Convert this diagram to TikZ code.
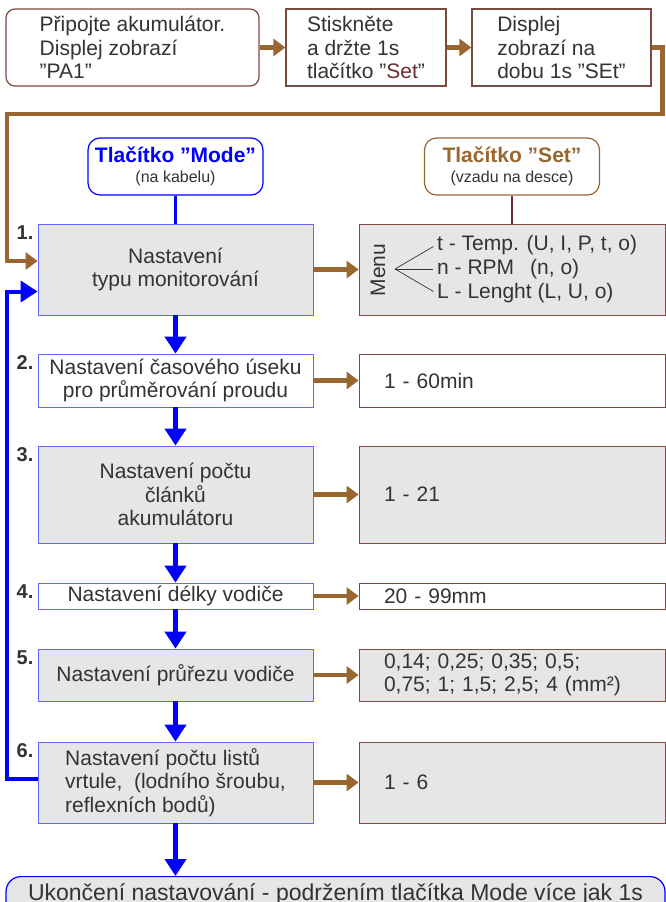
\documentclass[tikz,border=0pt]{standalone}
\usepackage{fontspec}
\setmainfont{Liberation Sans}[Ligatures=NoCommon]
\usetikzlibrary{arrows.meta}
\definecolor{hnd}{HTML}{9A6630}
\definecolor{hndt}{HTML}{7B4A40}
\definecolor{setc}{HTML}{6B2E2E}
\definecolor{modra}{HTML}{0000FF}
\definecolor{okraj}{HTML}{6666FF}
\definecolor{seda}{HTML}{E6E6E6}
\definecolor{txt}{HTML}{333333}
\newcommand{\uv}{\symbol{34}}
\begin{document}
\begin{tikzpicture}[x=1pt, y=-1pt, font=\fontsize{21}{23.5}\selectfont, text=txt,
	horni/.style={draw=hndt, line width=1.2pt, fill=white, align=left, minimum height=77pt, inner sep=0pt},
	krok/.style={draw=okraj, line width=0.8pt, fill=seda, minimum width=275pt, inner sep=0pt, align=center},
	hodn/.style={draw=hndt, line width=0.8pt, fill=seda, text width=256pt, inner xsep=25pt, inner ysep=0pt, align=left},
	cislo/.style={font=\fontsize{20}{20}\selectfont\bfseries, anchor=north east, inner sep=1pt},
	polozka/.style={anchor=west, inner sep=1pt},
	tlac/.style={rounded corners=12pt, fill=white, line width=1.2pt, minimum width=175pt, minimum height=57pt, align=center},
	sipH/.style={draw=hnd, line width=4.5pt, -{Triangle[length=12pt,width=17pt]}},
	sipM/.style={draw=modra, line width=5pt, -{Triangle[length=17pt,width=21pt]}}]
	\useasboundingbox (0,0) rectangle (666,902);
	% horni rada
	\node[horni, rounded corners=9pt, minimum width=253pt] (pripoj) at (132.5,47.5) {Připojte akumulátor.\\Displej zobrazí\\\uv PA1\uv};
	\node[horni, minimum width=160pt] (stisk) at (366,47.5) {Stiskněte\\a držte 1s\\tlačítko \uv\textcolor{setc}{Set}\uv};
	\node[horni, minimum width=179pt] (displ) at (561.5,47.5) {Displej\\zobrazí na\\dobu 1s \uv SEt\uv};
	\coordinate (zpet) at (7,114);
	\coordinate (smycka) at (7,500);
	% tlacitka
	\node[tlac, draw=modra] (mode) at (175.5,166.5) {\textcolor{modra}{\bfseries Tlačítko \uv Mode\uv}\\[-3pt]{\fontsize{16}{18}\selectfont (na kabelu)}};
	\node[tlac, draw=hnd] (set) at (512,166.5) {\textcolor{hnd}{\bfseries Tlačítko \uv Set\uv}\\[-3pt]{\fontsize{16}{18}\selectfont (vzadu na desce)}};
	% kroky
	\node[krok, minimum height=91pt] (k1) at (175.5,269.5) {Nastavení\\typu monitorování};
	\node[krok, fill=white, minimum height=53pt] (k2) at (175.5,380.5) {Nastavení časového úseku\\pro průměrování proudu};
	\node[krok, minimum height=97pt] (k3) at (175.5,494.5) {Nastavení počtu\\článků\\akumulátoru};
	\node[krok, fill=white, minimum height=26pt] (k4) at (175.5,596) {Nastavení délky vodiče};
	\node[krok, minimum height=52pt] (k5) at (175.5,675) {Nastavení průřezu vodiče};
	\node[krok, minimum height=81pt, align=left] (k6) at (175.5,782.5) {Nastavení počtu listů\\vrtule,~ (lodního šroubu,\\reflexních bodů)};
	\foreach \k/\c in {k1/1,k2/2,k3/3,k4/4,k5/5,k6/6}
		\node[cislo] (c\c) at ([xshift=-3pt,yshift=-1pt]\k.north west) {\c.};
	% hodnoty
	\node[hodn, minimum height=91pt] (vmenu) at (512,269.5) {};
	\node[hodn, fill=white, minimum height=53pt] (v2) at (512,380.5) {1 - 60min};
	\node[hodn, minimum height=97pt] (v3) at (512,494.5) {1 - 21};
	\node[hodn, fill=white, minimum height=26pt] (v4) at (512,596) {20 - 99mm};
	\node[hodn, minimum height=52pt] (v5) at (512,675) {0,14; 0,25; 0,35; 0,5;\\0,75; 1; 1,5; 2,5; 4 (mm²)};
	\node[hodn, minimum height=81pt] (v6) at (512,782.5) {1 - 6};
	% menu
	\node[rotate=90, inner sep=0pt] (menu) at (378,270) {Menu};
	\coordinate (vidl) at (395,269);
	\node[polozka] (mt) at (436,245) {t - Temp. (U, I, P, t, o)};
	\node[polozka] (mn) at (436,269) {n - RPM\hspace{16pt}(n, o)};
	\node[polozka] (ml) at (436,293) {L - Lenght (L, U, o)};
	\foreach \m in {mt,mn,ml}
		\draw[line width=0.7pt, black!80, shorten >=3pt] (vidl) -- (\m.west);
	% konec
	\node[draw=modra, fill=seda, rounded corners=15pt, line width=1.2pt, minimum width=659pt, anchor=north, text height=21pt, text depth=20pt, inner ysep=3pt, font=\fontsize{23}{26}\selectfont] (konec) at (335.5,876) {Ukončení nastavování - podržením tlačítka Mode více jak 1s};
	% spojnice
	\draw[draw=modra, line width=2.2pt] (mode.south) -- (k1.north);
	\draw[draw=setc, line width=2pt] (set.south) -- (vmenu.north);
	\draw[sipH] (pripoj) -- (stisk);
	\draw[sipH] (stisk) -- (displ);
	\draw[sipH] (displ.east) -- ++(11,0) |- (zpet) |- ([yshift=8.5pt]k1.west);
	\draw[sipM, line width=4pt] ([yshift=4pt]k6.west) -| (smycka) |- ([yshift=-22pt]k1.west);
	\draw[sipH] (k1) -- (vmenu);
	\foreach \a/\b in {k2/v2,k3/v3,k4/v4,k5/v5,k6/v6}
		\draw[sipH] (\a) -- (\b);
	\foreach \a/\b in {k1/k2,k2/k3,k3/k4,k4/k5,k5/k6}
		\draw[sipM] (\a) -- (\b);
	\draw[sipM] (k6.south) -- (k6.south |- konec.north);
\end{tikzpicture}
\end{document}
